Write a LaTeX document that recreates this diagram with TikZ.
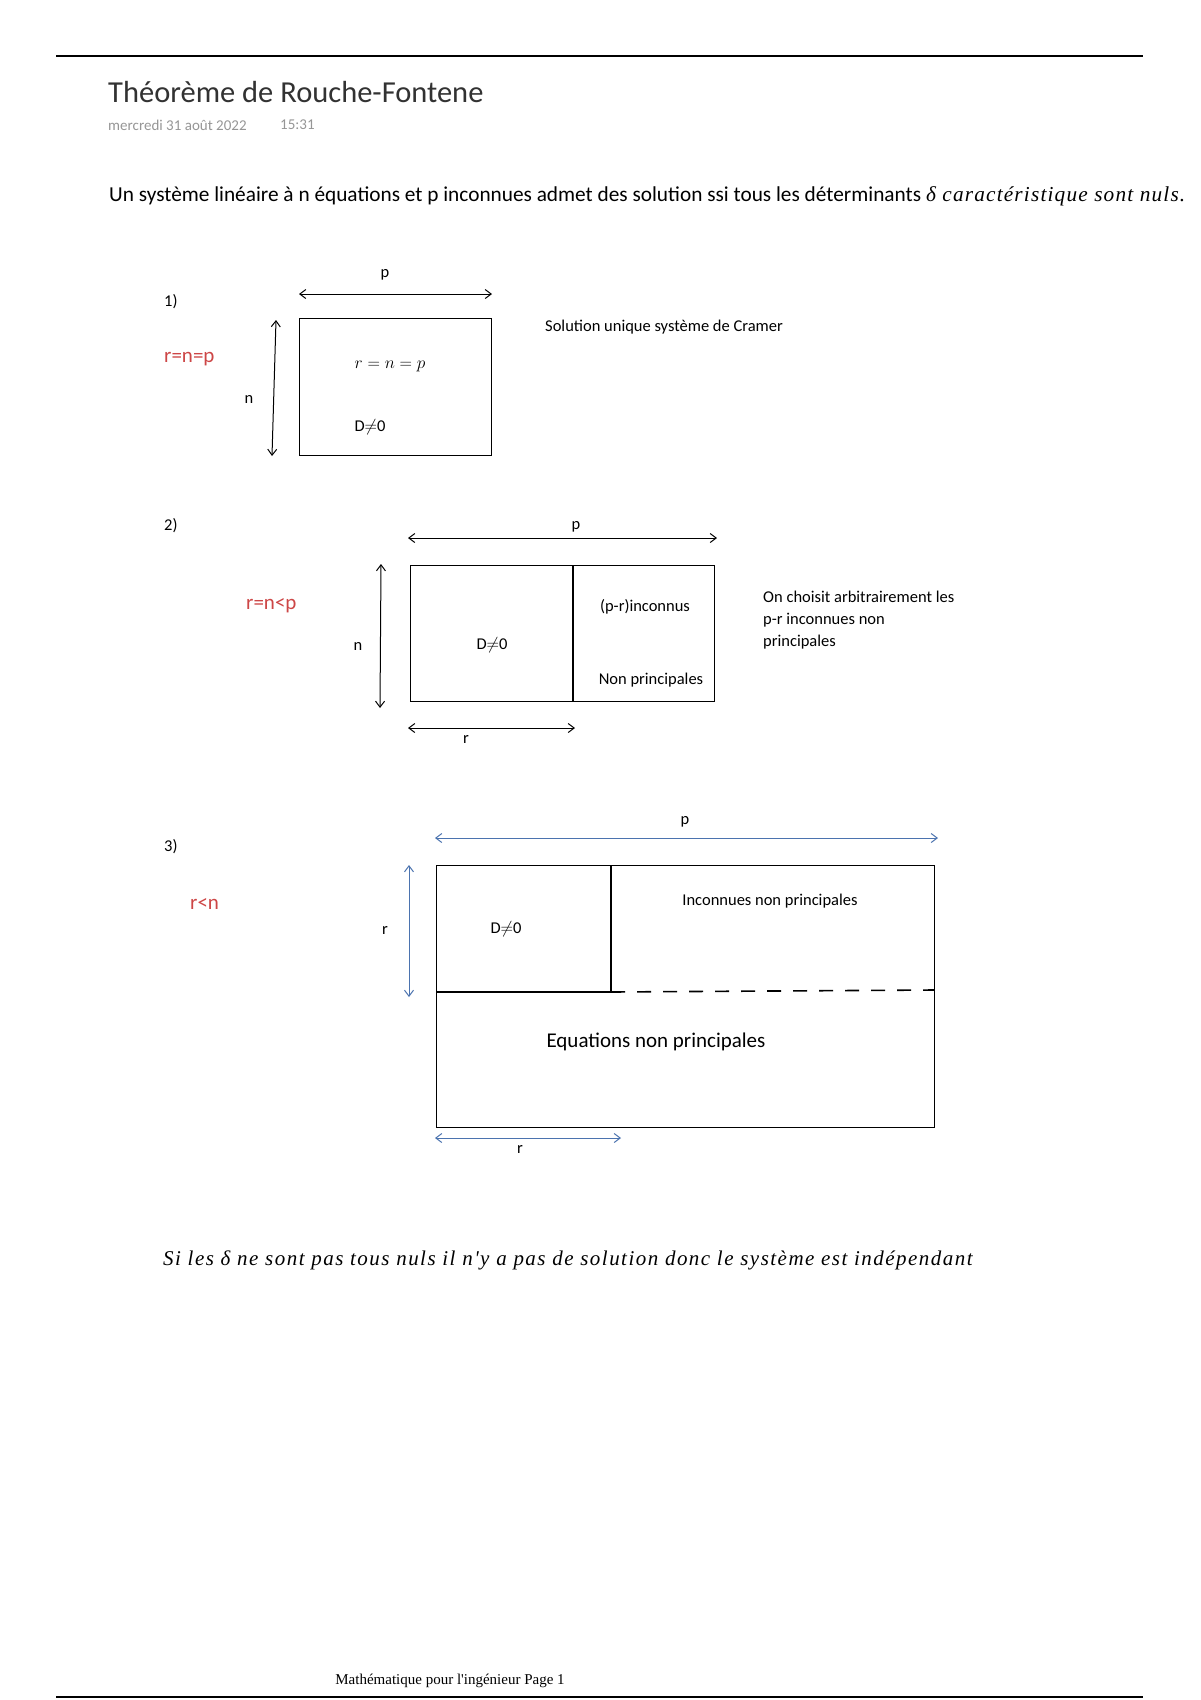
\documentclass[tikz,border=0pt]{standalone}
\usepackage{fontspec}
\setmainfont{Carlito}
\newfontfamily\serifit{Liberation Serif}
\usetikzlibrary{arrows.meta}
\definecolor{redlab}{RGB}{205,70,70}
\definecolor{bluearr}{RGB}{75,115,175}
\definecolor{dategray}{RGB}{150,150,150}
\definecolor{titlegray}{RGB}{50,50,50}
\begin{document}
\begin{tikzpicture}[x=1pt,y=-1pt,
  txt/.style={inner sep=0pt, font=\fontsize{16.5}{19}\selectfont},
  redtxt/.style={inner sep=0pt, text=redlab, font=\fontsize{21}{24}\selectfont},
  boxline/.style={draw=black, line width=1.3pt},
  dim/.style={line width=1pt, {Straight Barb[length=6pt,width=9pt]}-{Straight Barb[length=6pt,width=9pt]}},
  bdim/.style={dim, draw=bluearr}
]
\useasboundingbox (0,0) rectangle (1200,1700);
\fill[white] (0,0) rectangle (1200,1700);

% page rules
\coordinate (tl) at (56,56);
\coordinate (tr) at (1143,56);
\coordinate (bl) at (56,1697);
\coordinate (br) at (1143,1697);
\draw[line width=1.2pt] (tl) -- (tr);
\draw[line width=1.2pt] (bl) -- (br);

% header
\node[inner sep=0pt, anchor=west, text=titlegray, font=\fontsize{30.5}{34}\selectfont] (title) at (108,92) {Théorème de Rouche-Fontene};
\node[inner sep=0pt, anchor=west, text=dategray, font=\fontsize{15}{17}\selectfont] (date) at (108,125) {mercredi 31 août 2022};
\node[inner sep=0pt, anchor=west, text=dategray, font=\fontsize{15}{17}\selectfont] (time) at (280,125) {15:31};

\node[inner sep=0pt, anchor=west, font=\fontsize{21.3}{24}\selectfont] (intro) at (109,196) {Un système linéaire à n équations et p inconnues admet des solution ssi tous les déterminants {\serifit\itshape\addfontfeature{LetterSpace=5.5}δ caractéristique sont nuls.}};

% ---------- case 1 ----------
\node[txt, anchor=west] (c1) at (164,302) {1)};
\node[redtxt, anchor=west] (r1) at (164,359) {r=n=p};
\node[boxline, minimum width=192pt, minimum height=137pt, anchor=north west, inner sep=0pt] (box1) at (299,318) {};
\coordinate (p1a) at (299,294);
\coordinate (p1b) at (492,294);
\draw[dim] (p1a) -- (p1b);
\node[txt] (p1) at (385,275) {p};
\coordinate (n1a) at (276,320);
\coordinate (n1b) at (272,456);
\draw[dim] (n1a) -- (n1b);
\node[txt] (n1) at (249,399) {n};
\node[inner sep=0pt, font=\fontsize{16.5}{19}\selectfont] (eq1) at (390,366) {$r=n=p$};
\node[txt] (d1) at (370,427) {D$\neq$0};
\node[txt, anchor=west] (sol1) at (545,327) {Solution unique système de Cramer};

% ---------- case 2 ----------
\node[txt, anchor=west] (c2) at (164,526) {2)};
\node[redtxt, anchor=west] (r2) at (246,606) {r=n<p};
\node[boxline, minimum width=304pt, minimum height=136pt, anchor=north west, inner sep=0pt] (box2) at (410,565) {};
\coordinate (div2t) at (573,565);
\coordinate (div2b) at (573,701);
\draw[line width=1.3pt] (div2t) -- (div2b);
\coordinate (p2a) at (408,538);
\coordinate (p2b) at (717,538);
\draw[dim] (p2a) -- (p2b);
\node[txt] (p2) at (576,527) {p};
\coordinate (n2a) at (381,564);
\coordinate (n2b) at (380,708);
\draw[dim] (n2a) -- (n2b);
\node[txt] (n2) at (358,646) {n};
\node[txt] (d2) at (492,645) {D$\neq$0};
\node[txt] (pr2) at (645,607) {(p-r)inconnus};
\node[txt] (np2) at (651,680) {Non principales};
\coordinate (r2a) at (408,728);
\coordinate (r2b) at (575,728);
\draw[dim] (r2a) -- (r2b);
\node[txt] (rl2) at (466,739) {r};
\node[txt, anchor=north west, align=left, font=\fontsize{16.5}{22}\selectfont] (ch2) at (763,591) {On choisit arbitrairement les\\p-r inconnues non\\principales};

% ---------- case 3 ----------
\node[txt, anchor=west] (c3) at (164,847) {3)};
\node[redtxt, anchor=west] (r3) at (190,904) {r<n};
\node[boxline, minimum width=498pt, minimum height=262pt, anchor=north west, inner sep=0pt] (box3) at (436,865) {};
\coordinate (div3t) at (611,865);
\coordinate (div3b) at (611,992);
\coordinate (h3l) at (436,992);
\coordinate (h3r) at (934,990);
\draw[line width=1.3pt] (div3t) -- (div3b) -- (h3l);
\draw[line width=1.6pt, dash pattern=on 14pt off 12pt] (div3b) -- (h3r);
\coordinate (p3a) at (435,838);
\coordinate (p3b) at (938,838);
\draw[bdim] (p3a) -- (p3b);
\node[txt] (p3) at (685,822) {p};
\coordinate (r3a) at (409,865);
\coordinate (r3b) at (409,997);
\draw[bdim] (r3a) -- (r3b);
\node[txt] (rl3) at (385,930) {r};
\node[txt] (d3) at (506,929) {D$\neq$0};
\node[txt] (inc3) at (770,901) {Inconnues non principales};
\node[inner sep=0pt, font=\fontsize{21}{24}\selectfont] (eq3) at (656,1042) {Equations non principales};
\coordinate (r3c) at (435,1138);
\coordinate (r3d) at (621,1138);
\draw[bdim] (r3c) -- (r3d);
\node[txt] (rl3b) at (520,1149) {r};

% conclusion
\node[inner sep=0pt, anchor=west, font=\serifit\itshape\addfontfeature{LetterSpace=7}\fontsize{21}{24}\selectfont] (concl) at (163,1260) {Si les δ ne sont pas tous nuls il n'y a pas de solution donc le système est indépendant};

% footer
\node[inner sep=0pt, text=black, font=\serifit\fontsize{15}{17}\selectfont] (foot) at (450,1681) {Mathématique pour l'ingénieur Page 1};
\end{tikzpicture}
\end{document}
